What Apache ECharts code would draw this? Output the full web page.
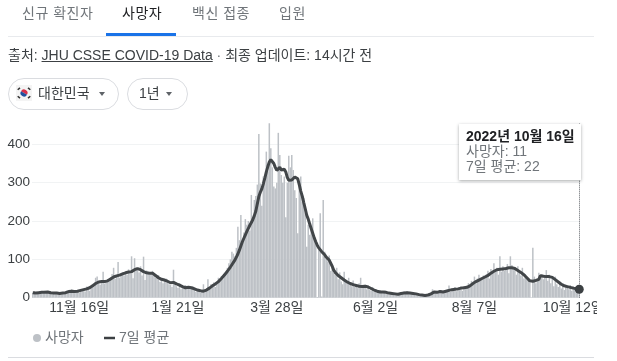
<!DOCTYPE html>
<html>
<head>
<meta charset="utf-8">
<style>
  html, body { margin: 0; padding: 0; background: #fff; overflow: hidden; }
  body { width: 617px; height: 361px; position: relative; font-family: Arial, "Liberation Sans", "Noto Sans CJK KR", sans-serif; }
  .abs { position: absolute; white-space: nowrap; }
  .tab { top: 3px; font-size: 14px; line-height: 20px; color: #70757a; letter-spacing: 0.5px; }
  .pill { top: 78px; height: 30px; border: 1px solid #dadce0; border-radius: 16px; box-sizing: content-box; }
  .pillText { top: 83px; font-size: 14px; line-height: 20px; color: #3c4043; }
  .caret { top: 92px; width: 0; height: 0; border-left: 3.5px solid transparent; border-right: 3.5px solid transparent; border-top: 4px solid #5f6368; }
  #chart { position: absolute; left: 0; top: 0; width: 597px; height: 361px; }
</style>
</head>
<body>
<div id="chart"></div>
<div class="abs tab" style="left:22px">신규 확진자</div>
<div class="abs tab" style="left:122px;color:#202124">사망자</div>
<div class="abs tab" style="left:192px">백신 접종</div>
<div class="abs tab" style="left:279px">입원</div>
<div class="abs" style="left:8px;top:36px;width:586px;height:1px;background:#e8eaed"></div>
<div class="abs" style="left:106px;top:33px;width:70px;height:3px;background:#1a73e8"></div>
<div class="abs" style="left:8px;top:46px;font-size:14px;line-height:18px;color:#3c4043">출처: <span style="text-decoration:underline">JHU CSSE COVID-19 Data</span> <span style="color:#70757a">·</span> 최종 업데이트: 14시간 전</div>
<div class="abs pill" style="left:8px;width:109px"></div>
<div class="abs pill" style="left:127px;width:59px"></div>
<svg class="abs" style="left:16px;top:85px" width="16" height="16" viewBox="0 0 16 16">
  <rect width="16" height="16" fill="#f4f4f4"/>
  <path d="M4.5 8a3.5 3.5 0 0 1 7 0z" fill="#d8304a" transform="rotate(30 8 8)"/>
  <path d="M4.5 8a3.5 3.5 0 0 0 7 0z" fill="#20509e" transform="rotate(30 8 8)"/>
  <g fill="#333"><rect x="1.5" y="3" width="3" height="1.5" transform="rotate(-40 3 4)"/><rect x="11.5" y="3" width="3" height="1.5" transform="rotate(40 13 4)"/><rect x="1.5" y="11.5" width="3" height="1.5" transform="rotate(40 3 12)"/><rect x="11.5" y="11.5" width="3" height="1.5" transform="rotate(-40 13 12)"/></g>
</svg>
<div class="abs pillText" style="left:38px">대한민국</div>
<div class="abs caret" style="left:99px"></div>
<div class="abs pillText" style="left:139px">1년</div>
<div class="abs caret" style="left:166px"></div>
<div class="abs" style="left:8px;top:357px;width:586px;height:1px;background:#dadce0"></div>

<script src="https://cdn.jsdelivr.net/npm/echarts@6/dist/echarts.min.js"></script>
<script>
var xTicks = ['11월 16일', '1월 21일', '3월 28일', '6월 2일', '8월 7일', '10월 12일'];
var yTicks = [0, 100, 200, 300, 400];

var deaths = [
  12,17,9,10,14,16,13,15,18,12,
  14,16,11,9,13,15,12,10,13,9,
  11,13,17,19,15,14,22,19,12,14,
  21,12,15,19,17,16,29,24,18,27,
  36,30,52,55,38,34,40,68,37,41,
  47,43,53,62,78,49,57,93,52,60,
  66,58,63,60,74,70,108,51,103,79,
  74,66,82,58,107,46,71,66,60,63,
  70,64,52,55,59,41,47,38,44,50,
  41,35,33,28,73,40,30,25,38,22,
  31,27,33,30,25,24,28,29,27,15,
  23,20,13,20,35,16,22,48,27,35,
  30,40,28,38,52,44,56,48,65,62,
  78,90,100,120,115,108,130,185,150,216,
  140,170,205,190,200,175,268,210,255,265,
  295,427,298,240,316,300,381,330,455,390,
  340,290,285,300,430,372,320,300,316,210,
  300,370,340,372,333,280,260,168,290,316,
  250,260,220,133,190,164,180,207,150,140,
  2,125,220,3,255,120,105,95,110,70,
  85,65,60,78,48,66,42,35,68,40,
  38,52,33,30,45,28,35,25,38,52,
  25,30,34,22,32,20,18,28,15,22,
  14,12,20,16,13,18,11,15,9,14,
  12,7,13,9,8,11,14,10,16,12,
  17,9,14,11,13,8,10,6,11,7,
  8,5,7,6,4,9,12,22,14,11,
  16,13,18,20,14,12,17,22,32,15,
  24,19,28,17,25,22,30,18,28,24,
  26,38,30,44,34,55,38,50,60,45,
  48,58,52,62,70,50,75,66,90,72,
  78,60,108,68,82,70,76,88,64,108,
  85,72,80,60,82,70,58,78,50,62,
  48,44,40,1,130,55,38,45,65,50,
  62,48,55,72,44,60,38,50,30,55,
  35,28,42,24,38,20,30,26,22,33,
  18,30,24,16,28,11
];

var average = [
  13,13,12,12,13,13,14,14,14,15,
  15,14,13,13,12,12,12,11,11,12,
  12,12,13,15,16,17,17,16,16,16,
  17,18,19,20,21,22,23,24,26,28,
  31,34,37,39,41,42,42,43,42,43,
  44,46,49,51,54,56,57,58,59,60,
  62,64,65,66,67,66,68,70,73,75,
  76,75,73,70,68,66,65,64,64,65,
  64,62,58,55,52,49,48,47,46,45,
  43,41,39,38,40,38,36,34,33,31,
  29,27,26,26,27,27,26,25,23,22,
  20,19,18,17,17,18,20,22,25,29,
  31,33,36,39,42,46,50,54,59,64,
  69,74,80,86,92,98,106,114,124,135,
  146,155,164,173,181,189,196,204,214,226,
  245,264,275,284,297,312,328,342,354,360,
  358,350,340,332,336,340,333,333,335,328,
  314,306,305,307,310,315,318,310,295,278,
  265,248,232,215,205,192,180,168,156,146,
  137,130,125,120,116,112,106,102,98,94,
  82,72,66,62,58,55,52,49,46,44,
  41,39,37,35,34,33,32,31,30,30,
  29,29,30,30,28,26,24,22,20,19,
  17,16,15,16,15,14,14,13,12,12,
  11,11,10,10,9,10,11,12,12,13,
  13,13,12,12,11,10,10,9,8,8,
  7,7,6,6,7,8,10,13,15,15,
  14,15,16,16,15,16,17,18,19,20,
  21,21,22,22,23,24,25,25,26,26,
  27,29,31,34,37,40,42,44,46,48,
  50,52,54,56,58,61,64,67,69,71,
  73,74,74,75,75,76,76,77,78,77,
  78,78,76,74,71,68,66,63,60,56,
  52,48,44,41,43,44,45,46,48,57,
  54,56,55,55,56,55,55,53,50,47,
  44,41,38,35,33,31,30,29,28,27,
  26,25,25,24,23,22
];

// one category per day, 2021-10-16 .. 2022-10-16
function getCategories(n) {
  var _list = [];
  for (var i = 0; i < n; i++) {
    var _d = new Date(2021, 9, 16 + i);
    _list.push((_d.getMonth() + 1) + '월 ' + _d.getDate() + '일');
  }
  return _list;
}

var categories = getCategories(deaths.length);
var lastIndex = deaths.length - 1;
var font = 'Arial, "Liberation Sans", "Noto Sans CJK KR", sans-serif';

var myChart = echarts.init(document.getElementById('chart'));
var option = {
  animation: false,
  textStyle: { fontFamily: font },
  grid: { left: 32, right: 17, top: 106, height: 191.7, outerBoundsMode: 'none' },
  tooltip: {
    trigger: 'axis',
    alwaysShowContent: true,
    transitionDuration: 0,
    axisPointer: { type: 'none' },
    position: [459, 124],
    padding: [5, 8, 6, 7],
    borderWidth: 0,
    backgroundColor: '#fff',
    extraCssText: 'border-radius:0;width:107px;box-shadow:0 1px 3px rgba(60,64,67,.45);line-height:15px;',
    textStyle: { fontSize: 14, color: '#70757a', fontFamily: font },
    formatter: function (params) {
      var _text = '<b style="color:#202124">2022년 ' + params[0].axisValue + '</b>';
      params.forEach(function (item) {
        _text += '<br>' + item.seriesName + ': ' + item.value;
      });
      return _text;
    }
  },
  legend: [{
    data: ['사망자'],
    left: 28,
    top: 326,
    icon: 'circle',
    itemWidth: 8,
    itemHeight: 8,
    itemGap: 0,
    textStyle: { color: '#70757a', fontSize: 14, padding: [0, 0, 0, -1] }
  }, {
    data: ['7일 평균'],
    left: 99,
    top: 326,
    icon: 'rect',
    itemWidth: 11,
    itemHeight: 2.5,
    itemGap: 0,
    textStyle: { color: '#70757a', fontSize: 14, padding: [0, 0, 0, -1] }
  }],
  xAxis: {
    type: 'category',
    data: categories,
    axisLine: { show: false },
    axisTick: { show: false },
    axisLabel: {
      color: '#3c4043',
      fontSize: 14,
      margin: 3,
      hideOverlap: false,
      interval: function (index, value) {
        return xTicks.indexOf(value) > -1;
      }
    }
  },
  yAxis: {
    type: 'value',
    min: yTicks[0],
    max: 500,
    interval: 100,
    axisLine: { show: false },
    axisTick: { show: false },
    axisLabel: { color: '#3c4043', fontSize: 13.5, margin: 2, showMaxLabel: false },
    splitLine: { showMaxLine: false, lineStyle: { color: '#f1f3f4', width: 1 } }
  },
  series: [{
    name: '사망자',
    type: 'bar',
    barWidth: 1.5,
    itemStyle: { color: '#bdc1c6' },
    data: deaths
  }, {
    name: '7일 평균',
    type: 'line',
    symbol: 'none',
    itemStyle: { color: '#3c4043' },
    lineStyle: { color: '#3c4043', width: 3 },
    data: average,
    markPoint: {
      symbol: 'circle',
      symbolSize: 9,
      silent: true,
      label: { show: false },
      itemStyle: { color: '#3c4043' },
      data: [{ coord: [lastIndex, average[lastIndex]] }]
    },
    markLine: {
      symbol: 'none',
      silent: true,
      label: { show: false },
      lineStyle: { color: '#5f6368', type: 'dotted', width: 1 },
      data: [[{ coord: [lastIndex, 0] }, { coord: [lastIndex, 455] }]]
    }
  }]
};
myChart.setOption(option, true);
myChart.dispatchAction({ type: 'showTip', seriesIndex: 0, dataIndex: lastIndex });
</script>
</body>
</html>
